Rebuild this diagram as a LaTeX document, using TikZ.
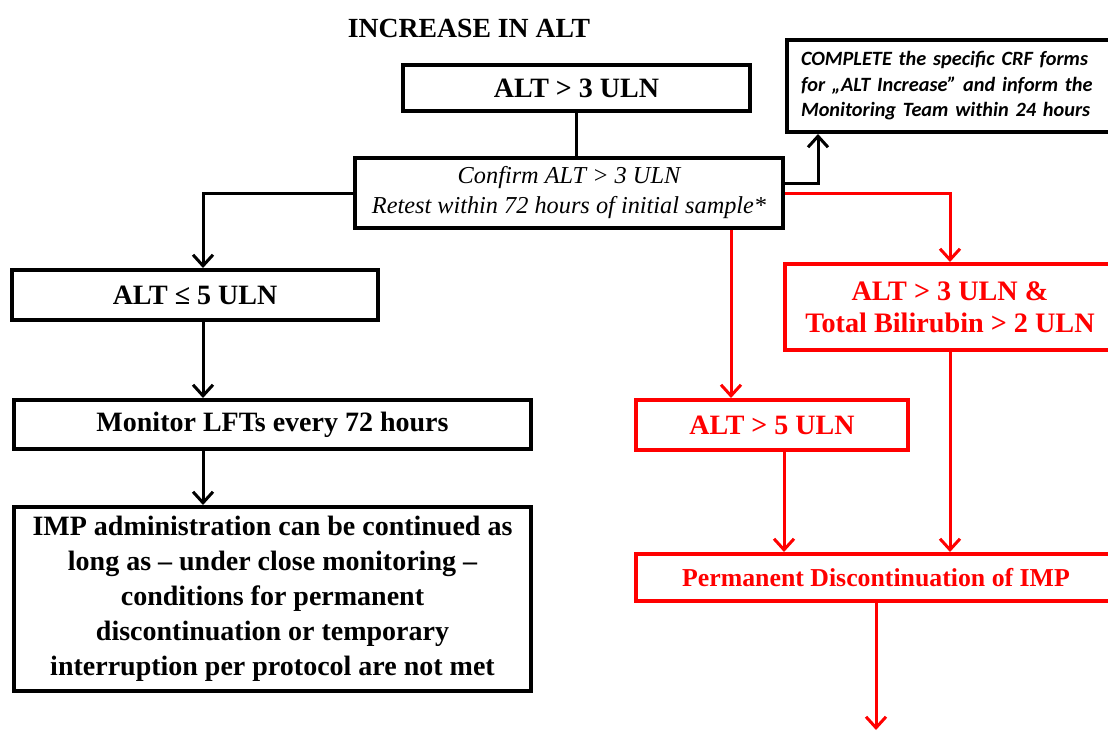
\documentclass[tikz,border=0pt]{standalone}
\usepackage{fontspec}
\setmainfont{Liberation Serif}
\newfontfamily\crffont{Carlito}
\usetikzlibrary{arrows.meta}

\begin{document}
\begin{tikzpicture}[x=1pt,y=-1pt,
  box/.style={draw=black,line width=4pt,fill=white,align=center,inner sep=2pt,font=\bfseries\fontsize{28}{35}\selectfont},
  redbox/.style={box,draw=red,text=red},
  arr/.style={line width=3pt,-{Straight Barb[length=11pt,width=20pt]}},
  redarr/.style={arr,draw=red}]
\useasboundingbox (0,0) rectangle (1108,731);
\clip (0,0) rectangle (1108,731);

\node[font=\bfseries\fontsize{27.7}{32}\selectfont] (title) at (469,28) {INCREASE IN ALT};
\node[box,minimum width=347pt,minimum height=46pt] (top) at (576.5,88) {ALT > 3 ULN};
\node[box,minimum width=428pt,minimum height=70pt,font=\itshape\fontsize{24.3}{30}\selectfont] (conf) at (569,193) {Confirm ALT > 3 ULN\\Retest within 72 hours of initial sample*};
\node[box,minimum width=336pt,minimum height=92pt,text width=308pt,align=left,font=\crffont\bfseries\itshape\fontsize{20.3}{25.5}\selectfont] (crf) at (955,86) {COMPLETE the specific CRF forms\\for „ALT Increase” and inform the\\Monitoring Team within 24 hours};

% left branch
\node[box,minimum width=366pt,minimum height=50pt] (le5) at (195,295) {ALT ≤ 5 ULN};
\node[box,minimum width=517pt,minimum height=49pt] (mon) at (272.5,424.5) {Monitor LFTs every 72 hours};
\node[box,minimum width=517pt,minimum height=184pt] (imp) at (272.5,599) {IMP administration can be continued as\\long as – under close monitoring –\\conditions for permanent\\discontinuation or temporary\\interruption per protocol are not met};

% right branch
\node[redbox,minimum width=330pt,minimum height=86pt,font=\bfseries\fontsize{28.2}{32}\selectfont] (bili) at (950,307) {ALT > 3 ULN \&\\Total Bilirubin > 2 ULN};
\node[redbox,minimum width=272pt,minimum height=50pt] (gt5) at (772,425) {ALT > 5 ULN};
\node[redbox,minimum width=480pt,minimum height=47pt,font=\bfseries\fontsize{25.8}{30}\selectfont] (perm) at (876,577.5) {Permanent Discontinuation of IMP};

\coordinate (lx) at (203,0);
\coordinate (cx) at (818,0);
\coordinate (rx) at (731,0);
\coordinate (gx) at (784,0);
\coordinate (pend) at (876,730);

\draw[line width=3pt] (top.south) -- (top.south |- conf.north);
\draw[arr] (conf.west) -| (le5.north -| lx);
\draw[arr] (le5.south -| lx) -- (mon.north -| lx);
\draw[arr] (mon.south -| lx) -- (imp.north -| lx);
\draw[arr] ([yshift=10pt]conf.east) -| (crf.south -| cx);
\draw[redarr] (conf.east) -| (bili.north);
\draw[redarr] (conf.south -| rx) -- (gt5.north -| rx);
\draw[redarr] (gt5.south -| gx) -- (perm.north -| gx);
\draw[redarr] (bili.south) -- (perm.north -| bili.south);
\draw[redarr] (perm.south) -- (pend);
\end{tikzpicture}
\end{document}
